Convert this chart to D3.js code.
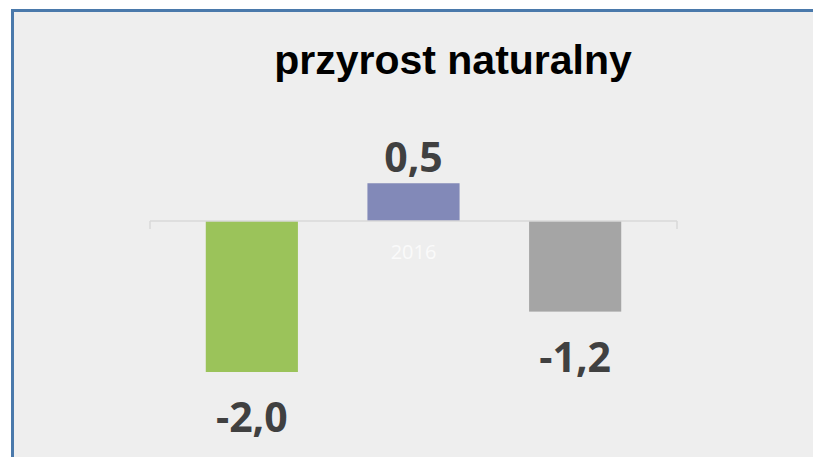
<!DOCTYPE html>
<html><head><meta charset="utf-8">
<script src="https://cdn.jsdelivr.net/npm/d3@7"></script>
<style>html,body{margin:0;padding:0;background:#fff;overflow:hidden}svg{display:block}</style>
</head><body>
<script>
const title = "przyrost naturalny";
const categories = ["2016"];
const seriesNames = ["seria 1", "seria 2", "seria 3"];
const seriesValues = [-2.0, 0.5, -1.2];
const seriesLabels = ["-2,0", "0,5", "-1,2"];
const seriesColors = ["#9bc35a", "#8289b8", "#a5a5a5"];

const W = 813, H = 457;
const svg = d3.select("body").append("svg").attr("width", W).attr("height", H);

// frame
svg.append("rect").attr("x", 0).attr("y", 0).attr("width", W).attr("height", H).attr("fill", "#ffffff");
svg.append("rect").attr("x", 12).attr("y", 10).attr("width", W - 12).attr("height", H - 10).attr("fill", "#eeeeee");
svg.append("line").attr("x1", 11).attr("x2", W).attr("y1", 10.5).attr("y2", 10.5)
  .attr("stroke", "#4a79ab").attr("stroke-width", 3);
svg.append("line").attr("x1", 12.5).attr("x2", 12.5).attr("y1", 9).attr("y2", H)
  .attr("stroke", "#4a79ab").attr("stroke-width", 3);

const x0 = d3.scaleBand().domain(categories).range([150, 677]).padding(0);
const x1 = d3.scaleBand().domain(seriesNames).range([0, x0.bandwidth()])
  .paddingInner(0.43).paddingOuter(0.345);
const y = d3.scaleLinear().domain([-2.5, 1.0]).range([409.75, 145.5]);

// title
svg.append("text").attr("x", 453).attr("y", 74).attr("text-anchor", "middle")
  .attr("font-family", "Liberation Sans, Arial, sans-serif").attr("font-weight", "bold")
  .attr("font-size", 41).attr("fill", "#000").text(title);

// bars
const g = svg.append("g").selectAll("g").data(categories).join("g")
  .attr("transform", d => `translate(${x0(d)},0)`);

const data = seriesNames.map((s, i) => ({s, v: seriesValues[i], lab: seriesLabels[i], c: seriesColors[i]}));

g.selectAll("rect").data(data).join("rect")
  .attr("x", d => x1(d.s)).attr("width", x1.bandwidth())
  .attr("y", d => y(Math.max(0, d.v))).attr("height", d => Math.abs(y(d.v) - y(0)))
  .attr("fill", d => d.c);

// axis
const axisG = svg.append("g").attr("transform", `translate(0,${y(0)})`);
axisG.append("line").attr("x1", 150).attr("x2", 677).attr("stroke", "#d9d9d9").attr("stroke-width", 1.5);
[150, 677].forEach(xx => axisG.append("line").attr("x1", xx).attr("x2", xx).attr("y1", 0).attr("y2", 8)
  .attr("stroke", "#d9d9d9").attr("stroke-width", 1.5));

// category label
svg.selectAll("text.cat").data(categories).join("text").attr("class", "cat")
  .attr("x", d => x0(d) + x0.bandwidth() / 2).attr("y", 259).attr("text-anchor", "middle")
  .attr("font-family", "Open Sans, sans-serif").attr("font-size", 20).attr("fill", "#fafafa").text(d => d);

// value labels
g.selectAll("text.val").data(data).join("text").attr("class", "val")
  .attr("x", d => x1(d.s) + x1.bandwidth() / 2)
  .attr("y", d => d.v >= 0 ? y(d.v) - 11 : y(d.v) + 60)
  .attr("text-anchor", "middle")
  .attr("font-family", "Open Sans, sans-serif").attr("font-weight", "bold")
  .attr("font-size", 41).attr("fill", "#404040").text(d => d.lab);
</script>
</body></html>
